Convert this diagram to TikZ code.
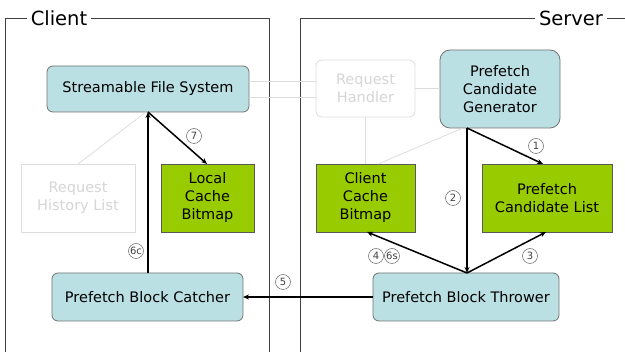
\documentclass[tikz,border=0pt]{standalone}
\usepackage{fontspec}
\setmainfont{DejaVu Sans}
\usetikzlibrary{arrows.meta}
\definecolor{boxblue}{HTML}{BBE0E3}
\definecolor{boxgreen}{HTML}{99CC00}
\definecolor{framegrey}{HTML}{404040}
\definecolor{fadegrey}{HTML}{DDDDDD}
\definecolor{fadetext}{HTML}{D6D6D6}
\tikzset{
  every node/.style={inner sep=0pt, outer sep=0pt},
  boxfont/.style={font=\fontsize{14.5}{18}\selectfont},
  rblue/.style={draw=black!55, fill=boxblue, rounded corners=6pt, line width=0.8pt,
                boxfont, align=center},
  sgreen/.style={draw=black!65, fill=boxgreen, line width=0.8pt,
                 boxfont, align=center},
  faded/.style={draw=fadegrey, line width=0.8pt, text=fadetext,
                boxfont, align=center},
  faintline/.style={draw=fadegrey, line width=0.8pt},
  flow/.style={draw=black, line width=1.5pt, -{Stealth[length=6pt,width=5pt]}},
  stepnum/.style={circle, draw=black!60, line width=0.5pt, minimum size=15pt,
                  font=\fontsize{10}{10}\selectfont, text=black!75},
  framebox/.style={draw=framegrey, line width=0.8pt},
  frametitle/.style={fill=white, inner xsep=4pt, font=\fontsize{19.5}{22}\selectfont}
}
\begin{document}
\begin{tikzpicture}[x=1pt,y=-1pt]
\useasboundingbox[fill=white] (0,0) rectangle (625,352);

% Client and Server frames
\draw[framebox] (5,360) -- (5,18) -- (269,18) -- (269,360);
\draw[framebox] (300,360) -- (300,18) -- (640,18);
\node[frametitle, anchor=center] (clienttitle) at (59,18) {Client};
\node[frametitle, anchor=center] (servertitle) at (571,18) {Server};

% Client components
\node[rblue, minimum width=202pt, minimum height=46pt] (sfs) at (148,89) {Streamable File System};
\node[faded, minimum width=114pt, minimum height=68pt] (rhl) at (78,198) {Request\\History List};
\node[sgreen, minimum width=93pt, minimum height=68pt] (lcb) at (207.5,198) {Local\\Cache\\Bitmap};
\node[rblue, minimum width=191pt, minimum height=48pt] (pbc) at (147.5,297) {Prefetch Block Catcher};

% Server components
\node[faded, rounded corners=6pt, minimum width=99pt, minimum height=57pt] (rh) at (365.5,88.5) {Request\\Handler};
\node[rblue, rounded corners=10pt, minimum width=120pt, minimum height=78pt] (pcg) at (500,89) {Prefetch\\Candidate\\Generator};
\node[sgreen, minimum width=99pt, minimum height=68pt] (ccb) at (365.5,198) {Client\\Cache\\Bitmap};
\node[sgreen, minimum width=130pt, minimum height=68pt] (pcl) at (547,198) {Prefetch\\Candidate List};
\node[rblue, minimum width=186pt, minimum height=48pt] (pbt) at (466,297) {Prefetch Block Thrower};

% Faint background links
\draw[faintline] (sfs.east |- 0,81) -- (rh.west |- 0,81);
\draw[faintline] (sfs.east |- 0,97) -- (rh.west |- 0,97);
\draw[faintline] (rh.east) -- (pcg.west |- rh.east);
\draw[faintline] (rh.south) -- (ccb.north);
\draw[faintline] (pcg.south -| 463,0) -- (ccb.north -| 378,0);
\draw[faintline] (sfs.south -| 146,0) -- (rhl.north -| 78,0);

% Data flow
\coordinate (pcgout) at (pcg.south -| 467,0);
\coordinate (pbtin) at (pbt.north -| 467,0);
\draw[flow] (pcgout) -- (pcl.north -| 543,0);
\draw[flow] (pcgout) -- (pbtin);
\draw[flow] (pbtin) -- (pcl.south -| 546,0);
\draw[flow] (pbtin) -- (ccb.south -| 367,0);
\draw[flow] (pbt.west) -- (pbc.east);
\draw[flow] (pbc.north -| 148,0) -- (sfs.south -| 148,0);
\draw[flow] (sfs.south -| 148,0) -- (lcb.north -| 207,0);

% Step numbers
\node[stepnum] (n1) at (536,146) {1};
\node[stepnum] (n2) at (453,198) {2};
\node[stepnum] (n3) at (530,256) {3};
\node[stepnum] (n4) at (376,256) {4};
\node[stepnum] (n6s) at (392,256) {6s};
\node[stepnum] (n5) at (283,282) {5};
\node[stepnum] (n6c) at (136,251) {6c};
\node[stepnum] (n7) at (194,136) {7};
\end{tikzpicture}
\end{document}
